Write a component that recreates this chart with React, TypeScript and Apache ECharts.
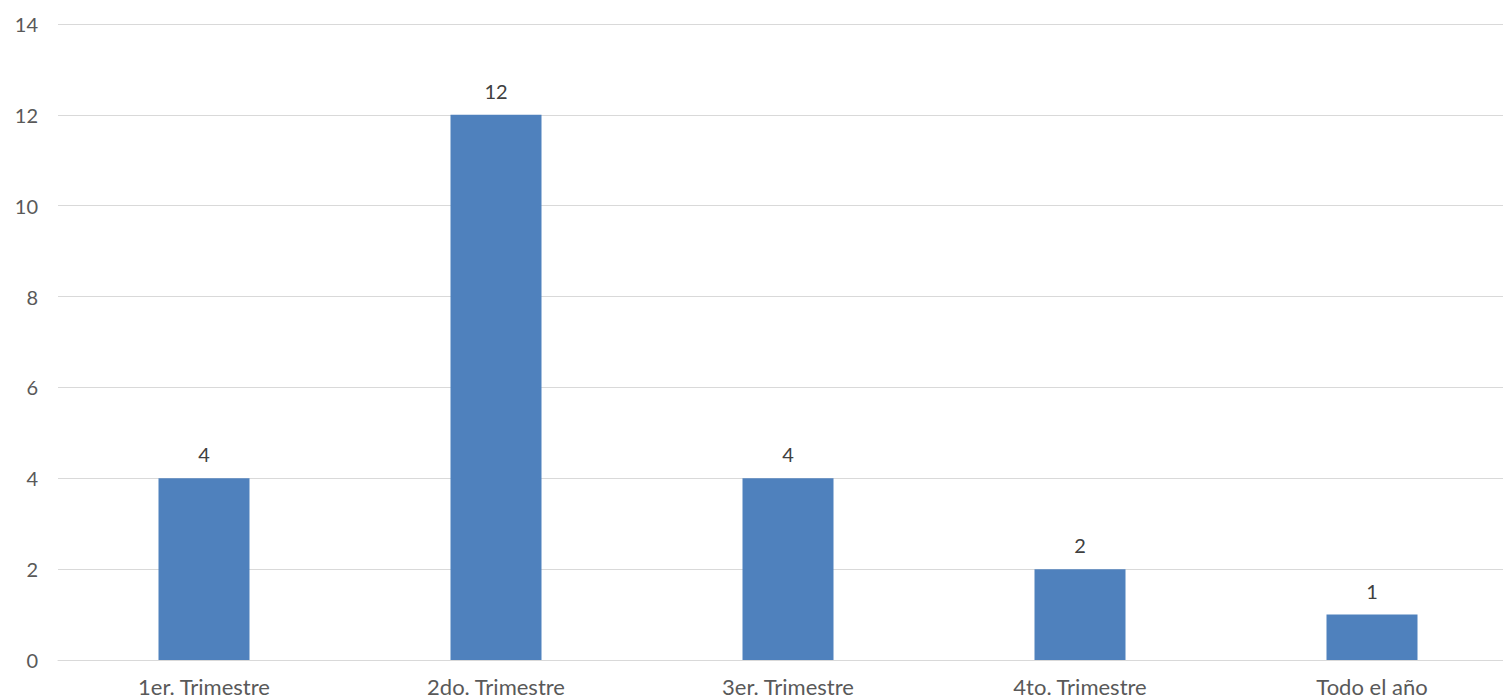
import React, { useEffect, useRef } from "react";
import * as echarts from "echarts";

const categories = ["1er. Trimestre", "2do. Trimestre", "3er. Trimestre", "4to. Trimestre", "Todo el año"];
const values = [4, 12, 4, 2, 1];
const yMin = 0;
const yMax = 14;
const yInterval = 2;

export default function App() {
  const ref = useRef<HTMLDivElement>(null);
  useEffect(() => {
    if (!ref.current) return;
    const chart = echarts.init(ref.current, undefined, { renderer: "svg" });
    const font = "Lato, 'Open Sans', sans-serif";
    chart.setOption({
      animation: false,
      grid: { left: 58, right: 0, top: 24, bottom: 40, containLabel: false },
      xAxis: {
        type: "category",
        data: categories,
        axisLine: { show: true, lineStyle: { color: "#D9D9D9", width: 1 } },
        axisTick: { show: false },
        axisLabel: { color: "#595959", fontSize: 22, fontFamily: font, margin: 15 },
      },
      yAxis: {
        type: "value",
        min: yMin,
        max: yMax,
        interval: yInterval,
        axisLine: { show: false },
        axisTick: { show: false },
        splitLine: { lineStyle: { color: "#D9D9D9", width: 1 } },
        axisLabel: { color: "#595959", fontSize: 20, fontFamily: font, margin: 20 },
      },
      series: [
        {
          type: "bar",
          data: values,
          barWidth: 91,
          itemStyle: { color: "#4F81BD" },
          label: {
            show: true,
            position: "top",
            distance: 14,
            color: "#404040",
            fontSize: 20,
            fontFamily: font,
          },
        },
      ],
    });
    return () => chart.dispose();
  }, []);
  return (
    <div
      style={{ position: "fixed", left: 0, top: 0, width: 1503, height: 700, overflow: "hidden", background: "#fff" }}
    >
      <div ref={ref} style={{ width: 1518, height: 700 }} />
    </div>
  );
}
